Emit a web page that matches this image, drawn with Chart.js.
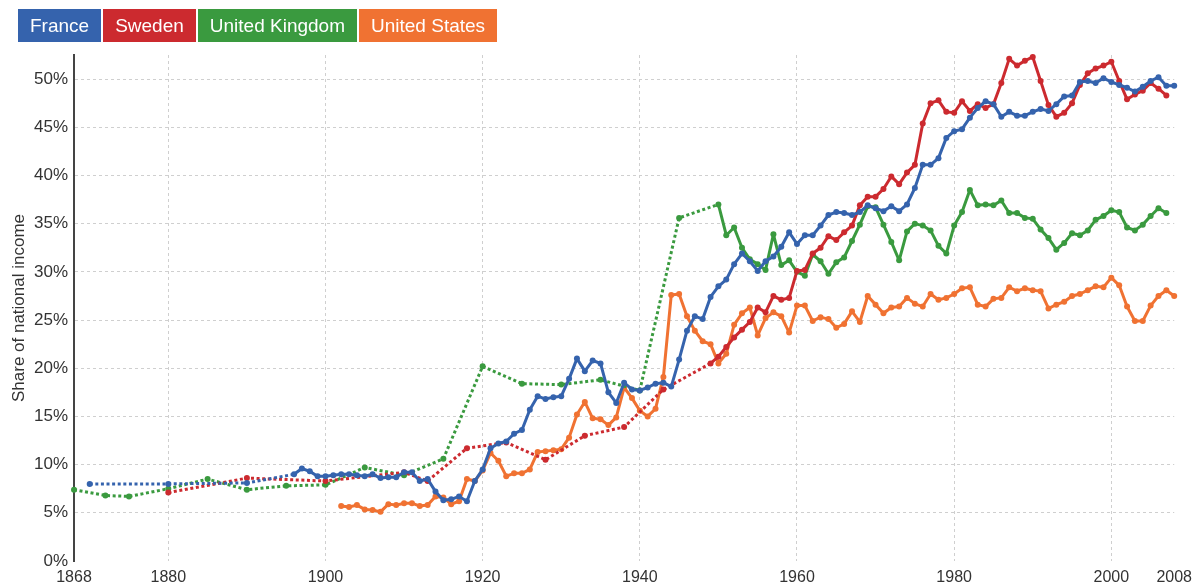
<!DOCTYPE html>
<html>
<head>
<meta charset="utf-8">
<script src="https://cdn.jsdelivr.net/npm/chart.js@4.4.1/dist/chart.umd.min.js"></script>
<style>
  html, body { margin: 0; padding: 0; background: #fff; }
  #wrap { position: relative; width: 1199px; height: 588px; }
  #legend { position: absolute; left: 18px; top: 9px; display: flex; z-index: 2; }
  #legend span {
    display: block; height: 33px; padding: 0 12px; margin-right: 2px;
    color: #fff; font: 19px "Liberation Sans", Arial, sans-serif; line-height: 33px;
  }
</style>
</head>
<body>
<div id="wrap">
  <div id="legend"></div>
  <canvas id="chart" width="1199" height="588"></canvas>
</div>
<script>
const seriesNames = ['France', 'Sweden', 'United Kingdom', 'United States'];
const seriesColors = ['#3563ad', '#cc2a2f', '#3a9a3f', '#f07232'];

const xTicks = [1868, 1880, 1900, 1920, 1940, 1960, 1980, 2000, 2008];
const yTicks = [0, 5, 10, 15, 20, 25, 30, 35, 40, 45, 50];

// France
const franceSparseYears = [1870, 1880, 1890];
const franceSparseShare = [8.0, 8.0, 8.1];
const franceAnnualFrom = 1896;
const franceAnnualShare = [
  9.0, 9.6, 9.3, 8.8, 8.8, 8.9, 9.0, 9.0, 8.9, 8.8,
  9.0, 8.6, 8.7, 8.7, 9.2, 9.2, 8.3, 8.5, 7.2, 6.3,
  6.4, 6.7, 6.2, 8.3, 9.5, 11.7, 12.2, 12.4, 13.2, 13.6,
  15.7, 17.1, 16.8, 17.0, 17.1, 18.9, 21.0, 19.7, 20.8, 20.5,
  17.5, 16.4, 18.5, 17.8, 17.7, 18.0, 18.4, 18.5, 18.1, 20.9,
  23.9, 25.4, 25.1, 27.4, 28.5, 29.2, 30.8, 31.9, 31.1, 30.1,
  31.1, 31.6, 32.6, 34.1, 32.9, 33.8, 33.8, 34.8, 35.9, 36.2,
  36.1, 35.9, 36.2, 36.9, 36.6, 36.3, 36.8, 36.3, 37.0, 38.7,
  41.1, 41.1, 41.8, 43.9, 44.6, 44.8, 46.0, 47.0, 47.7, 47.4,
  46.1, 46.6, 46.2, 46.2, 46.6, 46.9, 46.7, 47.4, 48.2, 48.3,
  49.7, 49.8, 49.6, 50.1, 49.7, 49.4, 49.1, 48.7, 49.2, 49.8,
  50.2, 49.3, 49.3
];

// Sweden
const swedenSparseYears = [1880, 1890, 1900, 1910, 1913, 1918, 1923, 1928, 1933, 1938, 1943, 1949];
const swedenSparseShare = [7.1, 8.6, 8.3, 9.2, 8.3, 11.7, 12.3, 10.5, 13.0, 13.9, 17.8, 20.5];
const swedenAnnualFrom = 1950;
const swedenAnnualShare = [
  21.2, 22.2, 23.2, 24.0, 24.8, 26.3, 25.8, 27.5, 27.1, 27.3,
  30.1, 30.2, 31.9, 32.5, 33.7, 33.3, 34.1, 34.8, 36.9, 37.8,
  37.8, 38.6, 39.9, 39.1, 40.3, 41.1, 45.4, 47.5, 47.8, 46.6,
  46.5, 47.7, 46.7, 47.4, 47.0, 47.4, 49.6, 52.1, 51.4, 51.9,
  52.3, 49.8, 47.3, 46.1, 46.5, 47.5, 49.4, 50.6, 51.1, 51.4,
  51.8, 49.8, 47.9, 48.4, 48.8, 49.6, 49.0, 48.3
];

// United Kingdom
const ukSparseYears = [1868, 1872, 1875, 1880, 1885, 1890, 1895, 1900, 1905, 1910, 1915, 1920, 1925, 1930, 1935, 1940, 1945, 1950];
const ukSparseShare = [7.4, 6.8, 6.7, 7.5, 8.5, 7.4, 7.8, 7.9, 9.7, 8.9, 10.6, 20.2, 18.4, 18.3, 18.8, 17.7, 35.6, 37.0];
const ukAnnualFrom = 1951;
const ukAnnualShare = [
  33.8, 34.6, 32.5, 31.3, 30.8, 30.2, 33.9, 30.7, 31.2,
  30.0, 29.6, 31.8, 31.1, 29.8, 31.0, 31.5, 33.2, 34.9, 36.8,
  36.7, 34.9, 33.1, 31.2, 34.2, 35.0, 34.8, 34.3, 32.7, 31.9,
  34.8, 36.2, 38.5, 36.9, 37.0, 36.9, 37.4, 36.1, 36.1, 35.6,
  35.5, 34.4, 33.5, 32.3, 33.0, 34.0, 33.8, 34.3, 35.4, 35.8,
  36.4, 36.2, 34.6, 34.3, 34.9, 35.8, 36.6, 36.1
];

// United States
const usSparseYears = [];
const usSparseShare = [];
const usAnnualFrom = 1902;
const usAnnualShare = [
  5.7, 5.6, 5.8, 5.35, 5.3, 5.1, 5.9, 5.8,
  6.0, 6.0, 5.7, 5.8, 6.7, 6.6, 5.9, 6.2, 8.5, 8.3,
  9.4, 11.2, 10.4, 8.8, 9.1, 9.1, 9.5, 11.3, 11.4, 11.5,
  11.6, 12.8, 15.2, 16.5, 14.8, 14.7, 14.1, 14.9, 18.0, 16.9,
  15.6, 15.0, 15.8, 19.1, 27.6, 27.7, 25.4, 23.9, 22.8, 22.5,
  20.5, 21.5, 24.5, 25.7, 26.3, 23.4, 25.2, 25.8, 25.4, 23.7,
  26.5, 26.5, 24.9, 25.3, 25.1, 24.2, 24.6, 25.9, 24.8, 27.5,
  26.6, 25.7, 26.3, 26.4, 27.3, 26.7, 26.4, 27.7, 27.1, 27.3,
  27.7, 28.3, 28.4, 26.6, 26.4, 27.2, 27.3, 28.4, 28.0, 28.3,
  28.1, 28.0, 26.2, 26.6, 26.9, 27.5, 27.7, 28.1, 28.5, 28.4,
  29.4, 28.6, 26.4, 24.9, 24.9, 26.5, 27.5, 28.1, 27.5
];

function toPoints(sparseYears, sparseShare, annualFrom, annualShare) {
  const pts = sparseYears.map((yr, i) => ({ x: yr, y: sparseShare[i] }));
  annualShare.forEach((v, i) => pts.push({ x: annualFrom + i, y: v }));
  return pts;
}

const seriesPoints = [
  toPoints(franceSparseYears, franceSparseShare, franceAnnualFrom, franceAnnualShare),
  toPoints(swedenSparseYears, swedenSparseShare, swedenAnnualFrom, swedenAnnualShare),
  toPoints(ukSparseYears, ukSparseShare, ukAnnualFrom, ukAnnualShare),
  toPoints(usSparseYears, usSparseShare, usAnnualFrom, usAnnualShare)
];

// html legend boxes
const legend = document.getElementById('legend');
seriesNames.forEach((name, i) => {
  const s = document.createElement('span');
  s.textContent = name;
  s.style.background = seriesColors[i];
  legend.appendChild(s);
});

const font = '"Liberation Sans", Arial, sans-serif';
const isGap = ctx => ctx.p1.parsed.x - ctx.p0.parsed.x > 1;

const datasets = seriesNames.map((name, i) => ({
  label: name,
  data: seriesPoints[i],
  borderColor: seriesColors[i],
  backgroundColor: seriesColors[i],
  borderWidth: 3,
  pointRadius: 3,
  pointBorderWidth: 0,
  pointBackgroundColor: seriesColors[i],
  borderCapStyle: 'round',
  borderJoinStyle: 'round',
  tension: 0,
  clip: false,
  order: i,
  segment: {
    borderDash: ctx => (isGap(ctx) ? [3, 2.6] : undefined),
    borderCapStyle: ctx => (isGap(ctx) ? 'butt' : undefined)
  }
}));

new Chart(document.getElementById('chart'), {
  type: 'line',
  data: { datasets },
  options: {
    responsive: false,
    animation: false,
    layout: { padding: { top: 55, right: 21, left: 0, bottom: 0 } },
    plugins: { legend: { display: false }, tooltip: { enabled: false } },
    scales: {
      x: {
        type: 'linear',
        min: 1868,
        max: 2008,
        afterBuildTicks: s => { s.ticks = xTicks.map(v => ({ value: v })); },
        afterFit: s => { s.height = 27; },
        ticks: {
          font: { family: font, size: 16 },
          color: '#333',
          padding: 7,
          maxRotation: 0,
          callback: v => String(v)
        },
        grid: {
          drawTicks: false,
          color: ctx => (ctx.tick && (ctx.tick.value === 1868 || ctx.tick.value === 2008) ? 'rgba(0,0,0,0)' : '#cfcfcf')
        },
        border: { display: false, dash: [3, 3] }
      },
      y: {
        min: 0,
        max: 52.5,
        afterBuildTicks: s => { s.ticks = yTicks.map(v => ({ value: v })); },
        afterFit: s => { s.width = 74; },
        ticks: {
          font: { family: font, size: 17 },
          color: '#333',
          padding: 6,
          callback: v => v + '%'
        },
        grid: {
          drawTicks: false,
          color: ctx => (ctx.tick && ctx.tick.value === 0 ? 'rgba(0,0,0,0)' : '#cfcfcf')
        },
        border: { display: true, color: '#444', width: 2, dash: [3, 3] },
        title: {
          display: true,
          text: 'Share of national income',
          font: { family: font, size: 17 },
          color: '#333',
          padding: { top: 9, bottom: 0 }
        }
      }
    }
  }
});
</script>
</body>
</html>
